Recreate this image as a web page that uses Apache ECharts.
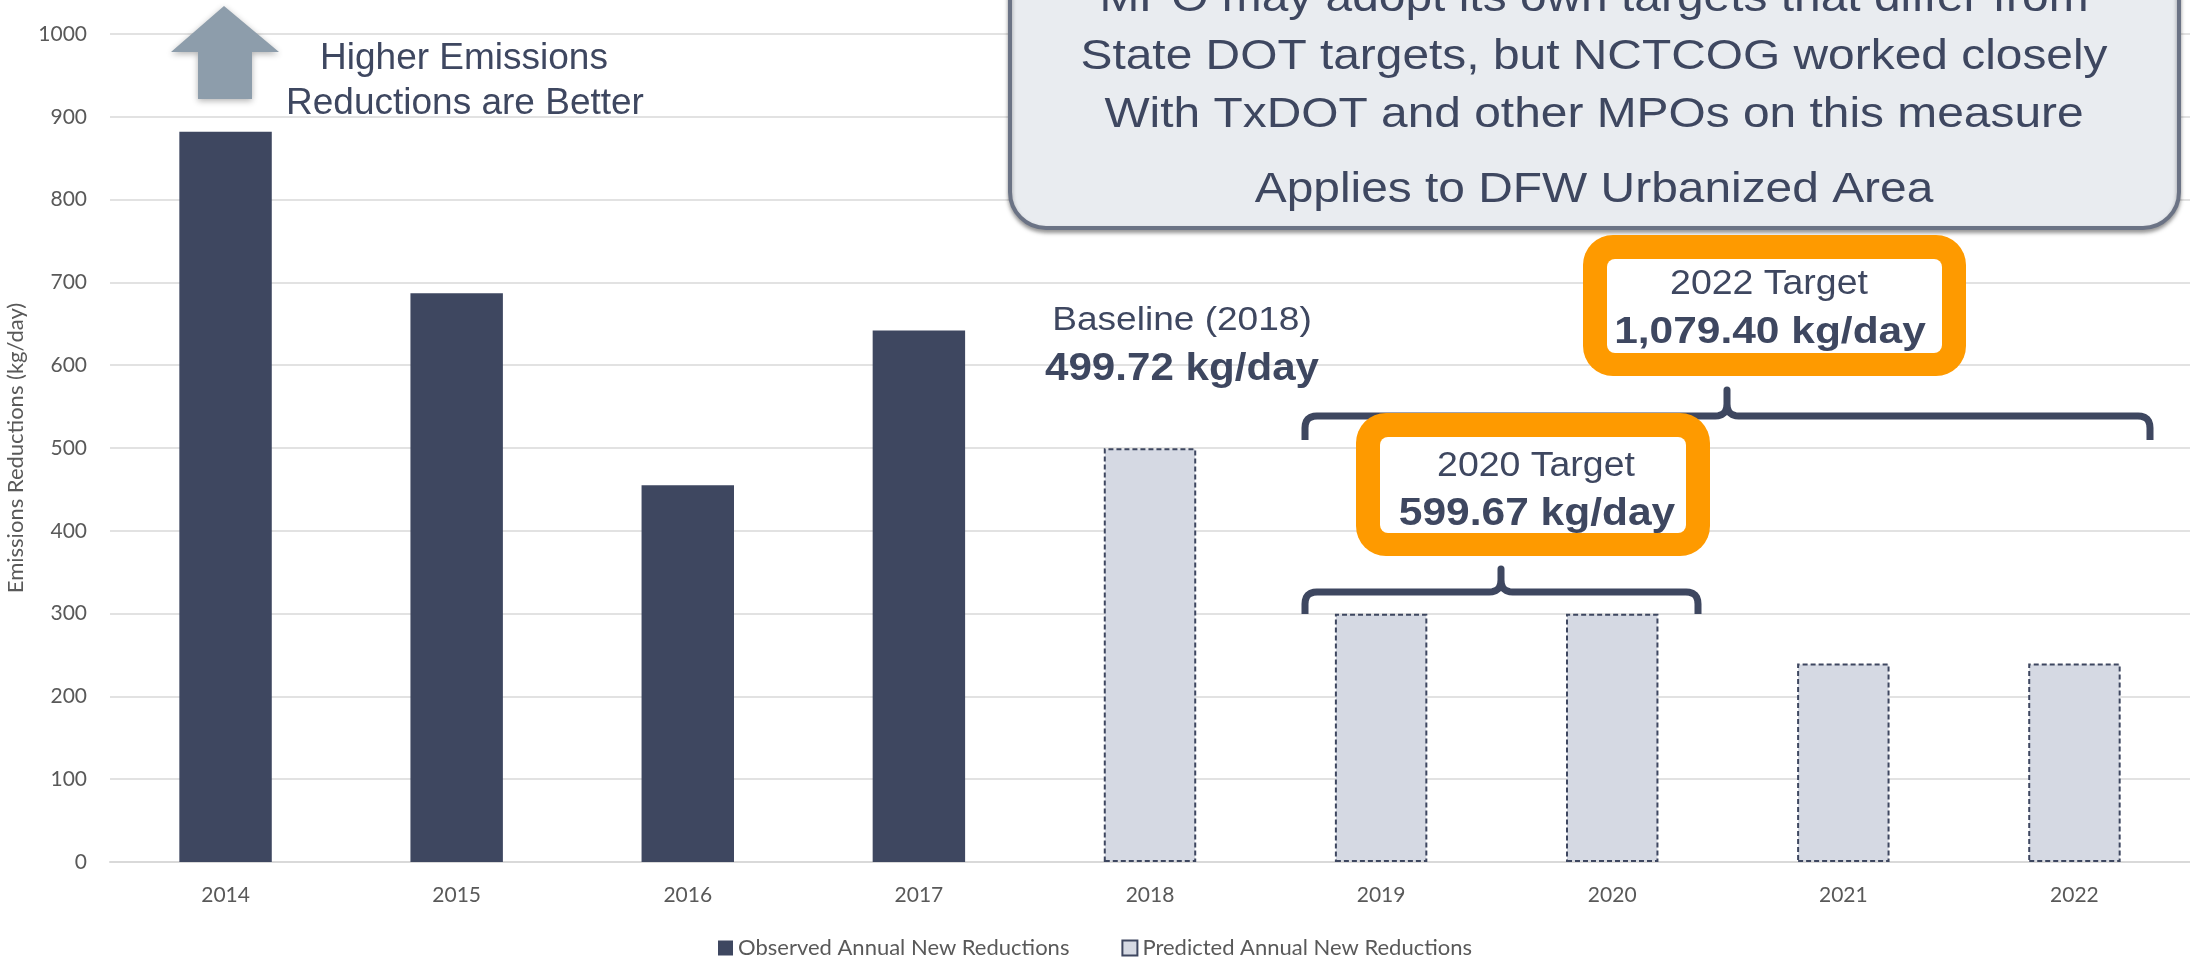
<!DOCTYPE html>
<html>
<head>
<meta charset="utf-8">
<title>Emissions Reductions</title>
<script src="https://cdn.jsdelivr.net/npm/echarts@6/dist/echarts.min.js"></script>
<style>
  html, body { margin: 0; padding: 0; background: #fff; }
  #chart { width: 2190px; height: 959px; }
</style>
</head>
<body>
<div id="chart"></div>
<script>
// data
const years = ['2014', '2015', '2016', '2017', '2018', '2019', '2020', '2021', '2022'];
const observed = [882, 687, 455, 642, '-', '-', '-', '-', '-'];
const predicted = ['-', '-', '-', '-', 499.72, 299.84, 299.83, 239.87, 239.86];
const yMin = 0;
const yMax = 1000;
const yStep = 100;

const seriesNames = ['Observed Annual New Reductions', 'Predicted Annual New Reductions'];
const boxLines = [
  'MPO may adopt its own targets that differ from',
  'State DOT targets, but NCTCOG worked closely',
  'With TxDOT and other MPOs on this measure',
  'Applies to DFW Urbanized Area'
];

const navy = '#3e4760';
const grey = '#595959';
const orange = '#fe9a00';
const arial = '"Liberation Sans", Arial, sans-serif';
const calibri = 'Lato, "Open Sans", sans-serif';

// text placed by baseline, optionally stretched horizontally
function txt(text, cx, baseline, size, bold, sx) {
  return {
    type: 'text',
    x: cx,
    y: baseline - 0.31 * size,
    scaleX: sx || 1,
    z: 120,
    style: {
      text: text,
      x: 0,
      y: 0,
      align: 'center',
      verticalAlign: 'middle',
      fontSize: size,
      fontWeight: bold ? 'bold' : 'normal',
      fontFamily: arial,
      fill: navy
    }
  };
}

function targetBox(x, y, w, h, z) {
  return [
    { type: 'rect', z: z, shape: { x: x, y: y, width: w, height: h, r: 30 }, style: { fill: orange } },
    { type: 'rect', z: z, shape: { x: x + 24, y: y + 24, width: w - 48, height: h - 47, r: 8 }, style: { fill: '#fff' } }
  ];
}

// curly bracket: ends drop to yEnd, bar at yBar, middle tip up to yTip
function bracket(x0, x1, xm, yBar, yEnd, yTip) {
  const r = 12;
  const pts = [];
  function quad(a, b, c) {
    for (let i = 0; i <= 6; i++) {
      const t = i / 6;
      pts.push([
        (1 - t) * (1 - t) * a[0] + 2 * t * (1 - t) * b[0] + t * t * c[0],
        (1 - t) * (1 - t) * a[1] + 2 * t * (1 - t) * b[1] + t * t * c[1]
      ]);
    }
  }
  pts.push([x0, yEnd]);
  quad([x0, yBar + r], [x0, yBar], [x0 + r, yBar]);
  quad([xm - r, yBar], [xm, yBar], [xm, yBar - r]);
  pts.push([xm, yTip]);
  quad([xm, yBar - r], [xm, yBar], [xm + r, yBar]);
  quad([x1 - r, yBar], [x1, yBar], [x1, yBar + r]);
  pts.push([x1, yEnd]);
  return {
    type: 'polyline', z: 100,
    shape: { points: pts },
    style: { fill: null, stroke: navy, lineWidth: 7, lineJoin: 'round' }
  };
}

const graphics = [
  // up arrow
  {
    type: 'polygon', z: 100,
    shape: { points: [[224, 6], [279, 52], [252, 52], [252, 99], [198, 99], [198, 52], [171, 52]] },
    style: { fill: '#8d9dab', shadowBlur: 6, shadowColor: 'rgba(0,0,0,0.3)', shadowOffsetY: 2 }
  },
  txt('Higher Emissions', 464, 70, 37),
  txt('Reductions are Better', 465, 115, 37),

  // top note box
  {
    type: 'rect', z: 100,
    shape: { x: 1010, y: -80, width: 1169, height: 308, r: 36 },
    style: { fill: '#e9ecf0', stroke: '#6b7385', lineWidth: 4, shadowBlur: 4, shadowOffsetY: 3, shadowColor: 'rgba(0,0,0,0.35)' }
  },
  txt(boxLines[0], 1594, 12, 42, false, 1.14),
  txt(boxLines[1], 1594, 70, 42, false, 1.14),
  txt(boxLines[2], 1594, 128, 42, false, 1.14),
  txt(boxLines[3], 1594, 203, 42, false, 1.14),

  // baseline label
  txt('Baseline (2018)', 1182, 331, 34, false, 1.09),
  txt('499.72 kg/day', 1182, 381, 39, true, 1.08),

  bracket(1305, 2150, 1727, 416, 440, 390),
  bracket(1305, 1698, 1501, 592, 614, 569)
].concat(
  targetBox(1583, 235, 383, 141, 105),
  [txt('2022 Target', 1769, 295, 35, false, 1.07), txt('1,079.40 kg/day', 1770, 344, 36, true, 1.18)],
  targetBox(1356, 413, 354, 143, 110),
  [txt('2020 Target', 1536, 477, 35, false, 1.07), txt('599.67 kg/day', 1537, 526, 39, true, 1.09)]
);

const chart = echarts.init(document.getElementById('chart'));

chart.setOption({
  animation: false,
  grid: { left: 110, right: 0, top: 34, bottom: 97, containLabel: false, outerBoundsMode: 'none' },
  legend: {
    top: 932,
    left: 'center',
    itemWidth: 15,
    itemHeight: 15,
    itemGap: 52,
    textStyle: { fontSize: 22, color: grey, fontFamily: calibri },
    data: [{ name: seriesNames[0], icon: 'rect' }, { name: seriesNames[1], icon: 'rect' }]
  },
  xAxis: {
    type: 'category',
    data: years,
    axisLine: { lineStyle: { color: '#d9d9d9', width: 2 } },
    axisTick: { show: false },
    axisLabel: { fontSize: 21, color: grey, fontFamily: calibri, margin: 23 }
  },
  yAxis: {
    type: 'value',
    min: yMin,
    max: yMax,
    interval: yStep,
    name: 'Emissions Reductions (kg/day)',
    nameLocation: 'middle',
    nameGap: 80,
    nameTextStyle: { fontSize: 22, color: grey, fontFamily: calibri },
    axisLine: { show: false },
    axisTick: { show: false },
    axisLabel: { fontSize: 21, color: grey, fontFamily: calibri, margin: 23, formatter: (v) => String(v) },
    splitLine: { lineStyle: { color: '#d9d9d9', width: 1.5 } }
  },
  series: [
    {
      name: seriesNames[0],
      type: 'bar',
      data: observed,
      barWidth: '40%',
      barGap: '-100%',
      itemStyle: { color: navy }
    },
    {
      name: seriesNames[1],
      type: 'bar',
      data: predicted,
      barWidth: '40%',
      itemStyle: { color: '#d5d9e3', borderColor: navy, borderWidth: 2, borderType: [5, 3] }
    }
  ],
  graphic: graphics
});
</script>
</body>
</html>
